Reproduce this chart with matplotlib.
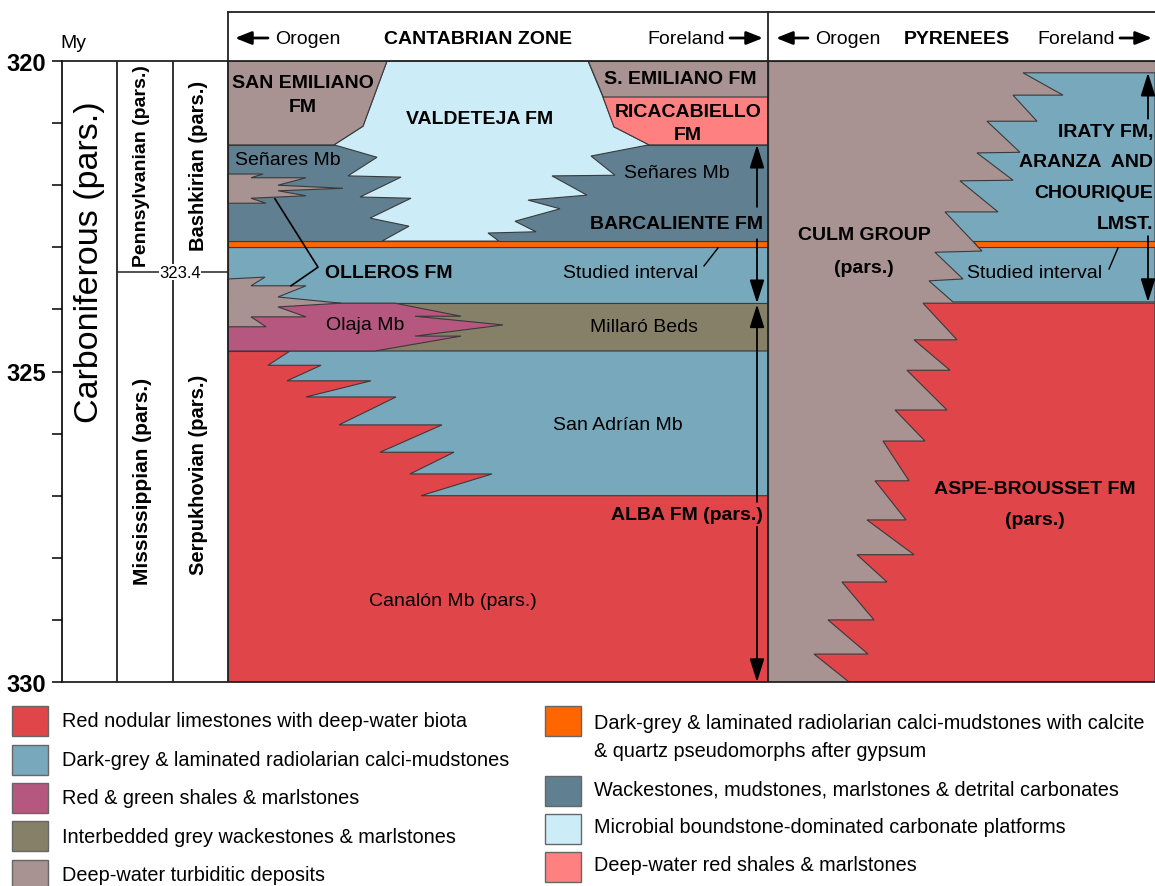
import matplotlib
matplotlib.use('Agg')
import matplotlib.pyplot as plt
from matplotlib.patches import Polygon, Rectangle

plt.rcParams['font.family'] = ['Liberation Sans', 'DejaVu Sans']

# colores de las litologias
c_red = '#df4549'
c_blue = '#78a8bc'
c_mag = '#b65780'
c_khaki = '#878069'
c_brown = '#a99292'
c_orange = '#ff6600'
c_slate = '#607f90'
c_light = '#ccedf8'
c_pink = '#ff8080'

# escala de edades (My)
age_top, age_base = 320, 330
age_ticks = [320, 325, 330]
boundary_age = 323.4

# Zona Cantabrica: distancia (0 = orogeno, 540 = antepais) y edad (My)
cant_width = 540
pyr_end = 927
olleros_rect = (323.00, 323.90)
millaro_rect = (323.90, 324.67)
canalon_rect = (324.67, 330.0)
orange_rect = (322.90, 323.00)
senares_rect = (321.35, 322.90)

san_emiliano_w = [(0, 320), (159, 320), (135, 321.05), (106, 321.35), (0, 321.35)]
s_emiliano_e = [(360, 320), (540, 320), (540, 320.58), (375, 320.58)]
ricacabiello = [(375, 320.58), (540, 320.58), (540, 321.35), (421, 321.35), (386, 321.06)]
valdeteja = [(159, 320), (135, 321.05), (106, 321.35), (149, 321.55), (120, 321.85),
             (173, 321.87), (132, 322.19), (183, 322.21), (142, 322.53), (181, 322.66),
             (154, 322.90), (271, 322.90), (260, 322.77), (308, 322.75), (287, 322.58),
             (332, 322.38), (300, 322.24), (359, 322.16), (324, 321.85), (387, 321.84),
             (363, 321.53), (421, 321.35), (386, 321.06), (375, 320.58), (360, 320)]
turbidites_up = [(0, 321.82), (35, 321.82), (23, 321.88), (78, 321.88), (50, 322.00),
                 (115, 322.05), (50, 322.09), (78, 322.17), (23, 322.21), (38, 322.29),
                 (0, 322.29)]
olaja = [(0, 323.90), (113, 323.90), (167, 323.90), (233, 324.11), (187, 324.11),
         (275, 324.25), (187, 324.43), (233, 324.43), (147, 324.67), (0, 324.67)]
turbidites_low = [(0, 323.51), (37, 323.48), (23, 323.62), (78, 323.62), (50, 323.80),
                  (113, 323.90), (50, 323.96), (78, 324.12), (23, 324.12), (38, 324.28),
                  (0, 324.28)]
san_adrian = [(62, 324.67), (540, 324.67), (540, 327.0), (193, 327.0), (264, 326.65),
              (182, 326.65), (226, 326.30), (152, 326.30), (214, 325.86), (111, 325.86),
              (168, 325.41), (78, 325.41), (143, 325.15), (59, 325.15), (93, 324.90),
              (40, 324.90)]

# Pirineos
iraty = [(795, 320.19), (927, 320.19), (927, 323.88), (725, 323.88), (701, 323.54),
         (735, 323.51), (707, 323.08), (754, 323.06), (717, 322.43), (770, 322.43),
         (732, 321.93), (785, 321.92), (749, 321.48), (792, 321.47), (759, 320.97),
         (809, 320.97), (785, 320.55), (835, 320.55)]
orange_pyr = [(745, 322.90), (927, 322.90), (927, 323.00), (750, 323.00)]
aspe = [(695, 323.90), (927, 323.90), (927, 330), (621, 330), (586, 329.55),
        (640, 329.55), (600, 329.00), (646, 329.00), (614, 328.39), (659, 328.39),
        (629, 327.95), (686, 327.95), (639, 327.39), (678, 327.39), (647, 326.76),
        (681, 326.76), (655, 326.12), (697, 326.12), (667, 325.62), (719, 325.62),
        (679, 324.98), (722, 324.98), (686, 324.49), (729, 324.49)]

legend_left = [(c_red, 'Red nodular limestones with deep-water biota'),
               (c_blue, 'Dark-grey & laminated radiolarian calci-mudstones'),
               (c_mag, 'Red & green shales & marlstones'),
               (c_khaki, 'Interbedded grey wackestones & marlstones'),
               (c_brown, 'Deep-water turbiditic deposits')]
legend_right = [(c_orange, 'Dark-grey & laminated radiolarian calci-mudstones with calcite\n& quartz pseudomorphs after gypsum'),
                (c_slate, 'Wackestones, mudstones, marlstones & detrital carbonates'),
                (c_light, 'Microbial boundstone-dominated carbonate platforms'),
                (c_pink, 'Deep-water red shales & marlstones')]

W, H = 1155, 887
fig = plt.figure(figsize=(W / 100, H / 100), dpi=100)
ax = fig.add_axes([62 / W, 1 - 683 / H, (W - 62) / W, 621 / H])
ax.set_xlim(-166, pyr_end)
ax.set_ylim(age_base, age_top)
edge = '#3a3a3a'


def poly(pts, color, z=2):
    ax.add_patch(Polygon(pts, closed=True, facecolor=color, edgecolor=edge, lw=0.8, zorder=z))


def band(x0, x1, ages, color, z=1):
    ax.add_patch(Rectangle((x0, ages[0]), x1 - x0, ages[1] - ages[0], facecolor=color,
                           edgecolor=edge, lw=0.8, zorder=z))


def label(x, lines, ages, **kw):
    for txt, a in zip(lines, ages):
        ax.text(x, a, txt, va='center', zorder=7, **kw)


# Cantabrica
band(0, cant_width, olleros_rect, c_blue)
band(0, cant_width, millaro_rect, c_khaki)
band(0, cant_width, canalon_rect, c_red)
poly(san_adrian, c_blue)
poly(olaja, c_mag)
poly(turbidites_low, c_brown)
band(0, cant_width, orange_rect, c_orange)
band(0, cant_width, senares_rect, c_slate)
poly(valdeteja, c_light)
poly(turbidites_up, c_brown)
poly(san_emiliano_w, c_brown)
poly(s_emiliano_e, c_brown)
poly(ricacabiello, c_pink)

# Pirineos
band(cant_width, pyr_end, (age_top, age_base), c_brown)
poly(iraty, c_blue)
poly(orange_pyr, c_orange)
poly(aspe, c_red)

# marcos
for s in ['top', 'right', 'bottom']:
    ax.spines[s].set_visible(False)
ax.spines['left'].set_linewidth(1.2)
ax.hlines([age_top, age_base], -166, pyr_end, color='#222222', lw=1.3, zorder=5, clip_on=False)
ax.vlines([-111, -55, 0, cant_width], age_top, age_base, color='#222222', lw=1.3, zorder=5, clip_on=False)
ax.hlines(boundary_age, -111, 0, color='#222222', lw=1.1, zorder=5)
ax.text(-48, boundary_age, str(boundary_age), ha='center', va='center', fontsize=12, zorder=6,
        bbox=dict(facecolor='white', edgecolor='none', pad=0.5))
ax.set_xticks([])
ax.set_yticks(age_ticks)
ax.set_yticks(range(age_top, age_base + 1), minor=True)
ax.tick_params(axis='y', which='both', direction='out', length=7.5, width=1.1, pad=4)
ax.set_yticklabels([str(a) for a in age_ticks], fontsize=17, fontweight='bold')

# columnas estratigraficas
ax.text(-138, 323.22, 'Carboniferous (pars.)', rotation=90, ha='center', va='center', fontsize=24.5)
ax.text(-86, 321.67, 'Pennsylvanian (pars.)', rotation=90, ha='center', va='center', fontsize=14, fontweight='bold')
ax.text(-86, 326.76, 'Mississippian (pars.)', rotation=90, ha='center', va='center', fontsize=15, fontweight='bold')
ax.text(-30, 321.67, 'Bashkirian (pars.)', rotation=90, ha='center', va='center', fontsize=14.5, fontweight='bold')
ax.text(-30, 326.65, 'Serpukhovian (pars.)', rotation=90, ha='center', va='center', fontsize=14.5, fontweight='bold')

# etiquetas de formaciones
bold = dict(fontsize=14, fontweight='bold', ha='center')
reg = dict(fontsize=14, ha='center')
label(75, ['SAN EMILIANO', 'FM'], [320.34, 320.74], **bold)
label(252, ['VALDETEJA FM'], [320.93], **bold)
label(452, ['S. EMILIANO FM'], [320.28], **bold)
label(460, ['RICACABIELLO', 'FM'], [320.81, 321.18], **bold)
label(60, ['Señares Mb'], [321.58], **reg)
label(449, ['Señares Mb'], [321.79], **reg)
label(448, ['BARCALIENTE FM'], [322.62], **bold)
label(97, ['OLLEROS FM'], [323.41], fontsize=14, fontweight='bold', ha='left')
label(403, ['Studied interval'], [323.40], **reg)
label(137, ['Olaja Mb'], [324.24], **reg)
label(416, ['Millaró Beds'], [324.27], **reg)
label(390, ['San Adrían Mb'], [325.85], **reg)
label(459, ['ALBA FM (pars.)'], [327.3], **bold)
label(225, ['Canalón Mb (pars.)'], [328.68], **reg)
label(636, ['CULM GROUP', '(pars.)'], [322.79, 323.32], **bold)
label(925, ['IRATY FM,', 'ARANZA  AND', 'CHOURIQUE', 'LMST.'],
      [321.14, 321.62, 322.11, 322.62], fontsize=14, fontweight='bold', ha='right')
label(807, ['Studied interval'], [323.40], **reg)
label(807, ['ASPE-BROUSSET FM', '(pars.)'], [326.88, 327.38], **bold)

# lineas guia
ax.plot([47, 90, 63], [322.22, 323.32, 323.62], color='black', lw=1.2, zorder=6)
ax.plot([490, 476], [323.01, 323.30], color='black', lw=1.0, zorder=6)
ax.plot([890, 881], [323.01, 323.35], color='black', lw=1.0, zorder=6)

# flechas de intervalo
arr = dict(arrowstyle='-|>,head_length=0.95,head_width=0.3', color='black', lw=1.3,
           shrinkA=0, shrinkB=0, mutation_scale=15)
for x, a0, a1 in [(529, 322.35, 321.35), (529, 322.87, 323.90), (529, 327.1, 323.92),
                  (529, 327.5, 330.0), (920, 320.93, 320.19), (920, 322.82, 323.88)]:
    ax.annotate('', xy=(x, a1), xytext=(x, a0), arrowprops=arr, zorder=8)

# capa superior en pixeles: cabecera y leyenda
ov = fig.add_axes([0, 0, 1, 1])
ov.set_xlim(0, W)
ov.set_ylim(H, 0)
ov.axis('off')
ov.patch.set_alpha(0)
ov.plot([228, W], [13, 13], color='#222222', lw=1.3)
ov.plot([228, 228], [13, 62], color='#222222', lw=1.3)
ov.plot([768, 768], [13, 62], color='#222222', lw=1.3)
ov.text(60, 44, 'My', fontsize=14, ha='left', va='center')

head = dict(arrowstyle='-|>,head_length=0.7,head_width=0.28', color='black', lw=2,
            shrinkA=0, shrinkB=0, mutation_scale=14)
for x0, x1 in [(268, 235), (730, 763), (808, 776), (1120, 1152)]:
    ov.annotate('', xy=(x1, 39), xytext=(x0, 39), arrowprops=head)
ov.text(275, 39, 'Orogen', fontsize=14, ha='left', va='center')
ov.text(478, 39, 'CANTABRIAN ZONE', fontsize=14, fontweight='bold', ha='center', va='center')
ov.text(725, 39, 'Foreland', fontsize=14, ha='right', va='center')
ov.text(815, 39, 'Orogen', fontsize=14, ha='left', va='center')
ov.text(957, 39, 'PYRENEES', fontsize=14, fontweight='bold', ha='center', va='center')
ov.text(1115, 39, 'Foreland', fontsize=14, ha='right', va='center')

for i, (col, lab) in enumerate(legend_left):
    y = 722 + i * 38.5
    ov.add_patch(Rectangle((12, y - 15), 36, 30, facecolor=col, edgecolor='#666666', lw=1))
    ov.text(62, y, lab, fontsize=14.3, ha='left', va='center')
right_y = [722, 792, 830, 868]
for y, (col, lab) in zip(right_y, legend_right):
    ov.add_patch(Rectangle((545, y - 15), 36, 30, facecolor=col, edgecolor='#666666', lw=1))
    ov.text(594, y - 2 if '\n' not in lab else y + 16, lab, fontsize=14.3, ha='left', va='center',
            linespacing=1.6)

fig.savefig('out.png', dpi=100)
